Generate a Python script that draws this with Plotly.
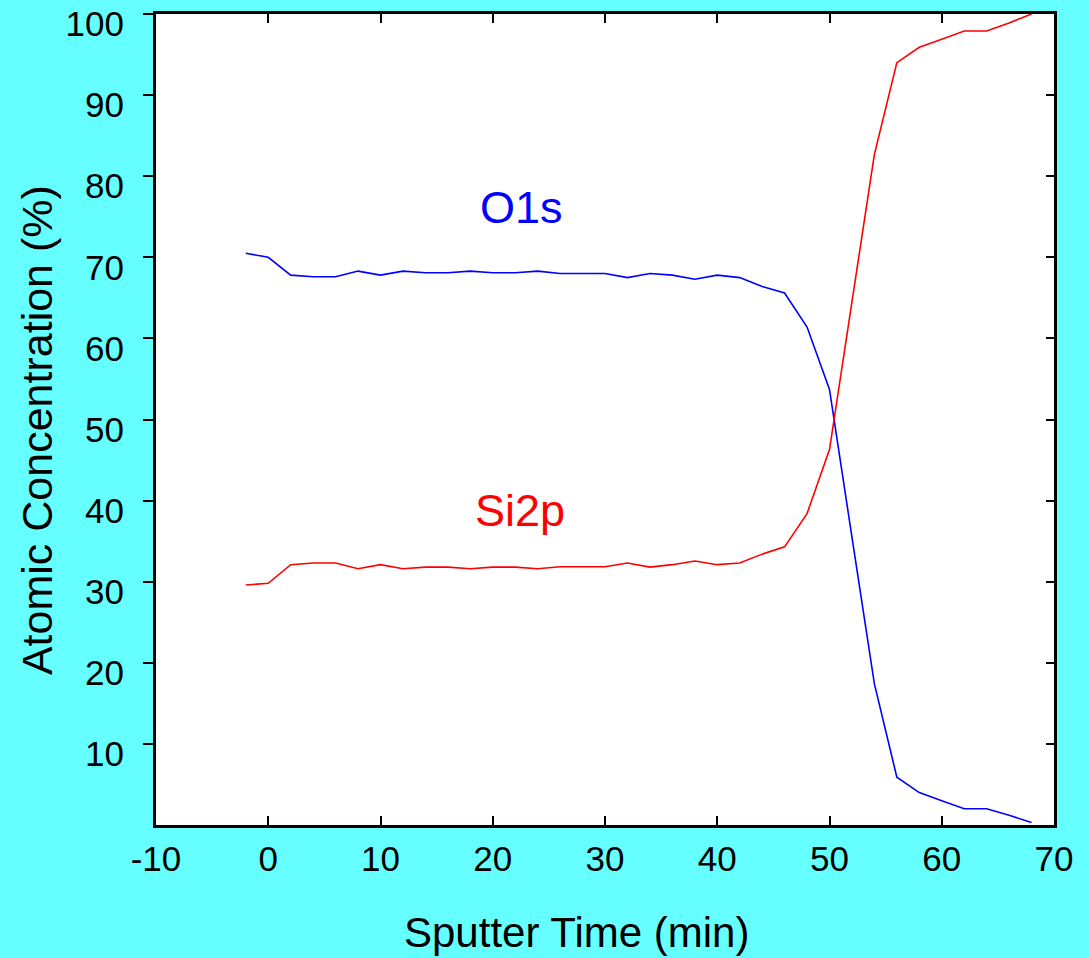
import plotly.graph_objects as go

time_min = [-2, 0, 2, 4, 6, 8, 10, 12, 14, 16, 18, 20, 22, 24, 26, 28, 30, 32, 34,
            36, 38, 40, 42, 44, 46, 48, 50, 52, 54, 56, 58, 60, 62, 64, 66, 68]
o1s = [70.5, 70.0, 67.8, 67.6, 67.6, 68.3, 67.8, 68.3, 68.1, 68.1, 68.3, 68.1, 68.1, 68.3,
       68.0, 68.0, 68.0, 67.5, 68.0, 67.8, 67.3, 67.8, 67.5, 66.4, 65.6, 61.4, 53.7, 35.5,
       17.4, 5.9, 4.0, 3.0, 2.0, 2.0, 1.2, 0.3]
si2p = [29.6, 29.8, 32.1, 32.3, 32.3, 31.6, 32.1, 31.6, 31.8, 31.8, 31.6, 31.8, 31.8, 31.6,
        31.85, 31.85, 31.85, 32.3, 31.8, 32.1, 32.55, 32.1, 32.3, 33.4, 34.3, 38.4, 46.3, 64.5,
        82.7, 94.0, 95.9, 96.9, 97.9, 97.9, 98.9, 100.0]

x_ticks = [-10, 0, 10, 20, 30, 40, 50, 60, 70]
x_tick_text = ["-10", "0", "10", "20", "30", "40", "50", "60", "70"]
y_ticks = [10, 20, 30, 40, 50, 60, 70, 80, 90, 100]

FONT = "Liberation Sans, Arial, sans-serif"

fig = go.Figure()
fig.add_trace(go.Scatter(x=time_min, y=o1s, mode="lines", name="O1s",
                         line=dict(color="#0000FF", width=1.6)))
fig.add_trace(go.Scatter(x=time_min, y=si2p, mode="lines", name="Si2p", yaxis="y2",
                         line=dict(color="#FF0000", width=1.6)))

fig.add_annotation(x=22.6, y=76.1, text="O1s", showarrow=False,
                   font=dict(family=FONT, size=45, color="#0000FF"))
fig.add_annotation(x=22.4, y=38.8, text="Si2p", showarrow=False,
                   font=dict(family=FONT, size=45, color="#FF0000"))
fig.add_annotation(xref="paper", yref="paper", x=0.468, y=-0.133, text="Sputter Time (min)",
                   xanchor="center", yanchor="middle",
                   showarrow=False, font=dict(family=FONT, size=42, color="black"))
fig.add_annotation(xref="paper", yref="paper", x=-0.1325, y=0.487, text="Atomic Concentration (%)",
                   xanchor="center", yanchor="middle",
                   textangle=-90, showarrow=False, font=dict(family=FONT, size=43, color="black"))

fig.update_layout(
    width=1089, height=958,
    margin=dict(l=156, r=35, t=14, b=133, autoexpand=False),
    paper_bgcolor="#66FFFF", plot_bgcolor="white",
    showlegend=False,
    font=dict(family=FONT, size=35, color="black"),
    xaxis=dict(range=[-10, 70], tickvals=x_ticks, ticktext=x_tick_text, ticks="inside",
               ticklen=9, tickwidth=1.5, automargin=False,
               tickcolor="black", showline=True, linecolor="black", linewidth=3, mirror="ticks",
               showgrid=False, zeroline=False, ticklabelstandoff=1),
    yaxis=dict(range=[0, 100], tickvals=y_ticks, ticks="outside", ticklen=10, tickwidth=1.5,
               tickcolor="black", showline=True, linecolor="black", linewidth=3, automargin=False,
               showgrid=False, zeroline=False, ticklabelstandoff=12, ticklabelshift=10,
               ticklabeloverflow="allow"),
    yaxis2=dict(range=[0, 100], tickvals=y_ticks, ticks="inside", ticklen=8, tickwidth=1.5,
                tickcolor="black", showline=True, linecolor="black", linewidth=3,
                overlaying="y", side="right", showticklabels=False, automargin=False,
                showgrid=False, zeroline=False),
)

fig.write_html("out.html", config={"displayModeBar": False},
               post_script="document.body.style.margin='0';document.body.style.overflow='hidden';"
                           "document.body.style.background='#66FFFF';")
